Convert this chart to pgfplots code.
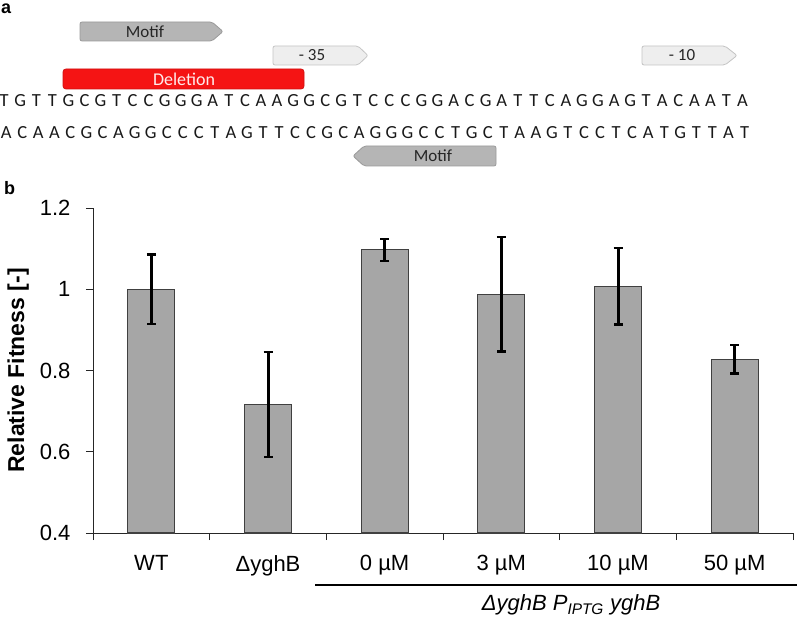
\documentclass[border=0pt]{standalone}
\usepackage{pgfplots}
\pgfplotsset{compat=1.18}
\usepackage{fontspec}
\setmainfont{Liberation Sans}
\newfontfamily\carlito{Carlito}
\definecolor{barfill}{HTML}{A6A6A6}
\definecolor{bardraw}{HTML}{404040}
\definecolor{motiffill}{HTML}{B5B5B5}
\definecolor{motifdraw}{HTML}{9A9A9A}
\definecolor{lightfill}{HTML}{EEEEEE}
\definecolor{lightdraw}{HTML}{C4C4C4}
\definecolor{delred}{RGB}{245,20,20}
\makeatletter
\def\seqbox#1{\@tfor\@ch:=#1\do{\hbox to 16.05pt{\hss\@ch\hss}}}
\makeatother
\begin{document}
\begin{tikzpicture}
\path[use as bounding box] (0,0) rectangle (797pt,622pt);
\begin{scope}[x=1pt,y=-1pt,shift={(0,622pt)}]
  % panel letters
  \node[anchor=base west,inner sep=0,font=\bfseries\fontsize{18}{20}\selectfont] at (1,14) {a};
  \node[anchor=base west,inner sep=0,font=\bfseries\fontsize{18}{20}\selectfont] at (4,195) {b};
  % Motif (top)
  \draw[motifdraw,fill=motiffill,line width=0.8pt,rounded corners=2pt] (80,22) -- (212,22) -- (223,31.5) -- (212,41) -- (80,41) -- cycle;
  \node[font=\carlito\fontsize{17}{20}\selectfont,text=black!85] at (145,31.5) {Motif};
  % -35
  \draw[lightdraw,fill=lightfill,line width=0.8pt,rounded corners=2pt] (273,46) -- (358,46) -- (368,55.5) -- (358,65) -- (273,65) -- cycle;
  \node[font=\carlito\fontsize{17}{20}\selectfont,text=black!85] at (312,55.5) {- 35};
  % -10
  \draw[lightdraw,fill=lightfill,line width=0.8pt,rounded corners=2pt] (642,46) -- (725,46) -- (737,55.5) -- (725,65) -- (642,65) -- cycle;
  \node[font=\carlito\fontsize{17}{20}\selectfont,text=black!85] at (682,55.5) {- 10};
  % Deletion
  \draw[delred!85!black,fill=delred,line width=0.8pt,rounded corners=3pt] (63,69) rectangle (304,89);
  \node[font=\carlito\fontsize{18}{20}\selectfont,text=white!92!red] at (184,79) {Deletion};
  % sequences
  \node[anchor=base west,inner sep=0,font=\carlito\fontsize{18.5}{20}\selectfont,text=black!90] at (-4,107) {\seqbox{TGTTGCGTCCGGGATCAAGGCGTCCCGGACGATTCAGGAGTACAATA}};
  \node[anchor=base west,inner sep=0,font=\carlito\fontsize{18.5}{20}\selectfont,text=black!90] at (-2,139) {\seqbox{ACAACGCAGGCCCTAGTTCCGCAGGGCCTGCTAAGTCCTCATGTTAT}};
  % Motif (bottom, reverse)
  \draw[motifdraw,fill=motiffill,line width=0.8pt,rounded corners=2pt] (496,146) -- (364,146) -- (353,156) -- (364,166) -- (496,166) -- cycle;
  \node[font=\carlito\fontsize{17}{20}\selectfont,text=black!85] at (433,156) {Motif};
  % group bracket
  \draw[line width=2.5pt] (315,585) -- (797,585);
  \node[font=\itshape\fontsize{22}{26}\selectfont] at (571,605) {Δ{}yghB P\textsubscript{IPTG} yghB};
\end{scope}
\begin{axis}[
  at={(93pt,89pt)}, anchor=south west,
  scale only axis, width=700pt, height=325pt,
  xmin=-0.5, xmax=5.5, ymin=0.4, ymax=1.2,
  axis x line*=bottom, axis y line*=left,
  axis line style={line width=1pt, black!85},
  every tick/.style={line width=1pt, black!85},
  tick align=outside,
  major tick length=7pt, minor tick length=7pt,
  ytick={0.4,0.6,0.8,1,1.2},
  yticklabels={0.4,0.6,0.8,1,1.2},
  xtick={0,1,2,3,4,5},
  xticklabels={WT,ΔyghB,0 µM,3 µM,10 µM,50 µM},
  major x tick style={draw=none},
  minor xtick={-0.5,0.5,1.5,2.5,3.5,4.5,5.5},
  tick label style={font=\fontsize{22}{26}\selectfont},
  xticklabel style={yshift=-12pt},
  yticklabel style={xshift=-12pt},
  ylabel={Relative Fitness [-]},
  ylabel style={at={(axis description cs:-0.107,0.5)}, anchor=center, font=\bfseries\fontsize{23}{26}\selectfont},
  ybar, bar width=47pt,
  clip=false,
]
\addplot[fill=barfill, draw=bardraw, line width=1.2pt,
  error bars/.cd, y dir=both, y explicit,
  error mark=-,
  error bar style={line width=3pt, black},
  error mark options={rotate=90, line width=2.5pt, mark size=4.5pt, black}]
  coordinates {
  (0,1.000) +- (0,0.086)
  (1,0.716) +- (0,0.129)
  (2,1.097) +- (0,0.027)
  (3,0.988) +- (0,0.141)
  (4,1.007) +- (0,0.094)
  (5,0.828) +- (0,0.035)
};
\end{axis}
\end{tikzpicture}
\end{document}
